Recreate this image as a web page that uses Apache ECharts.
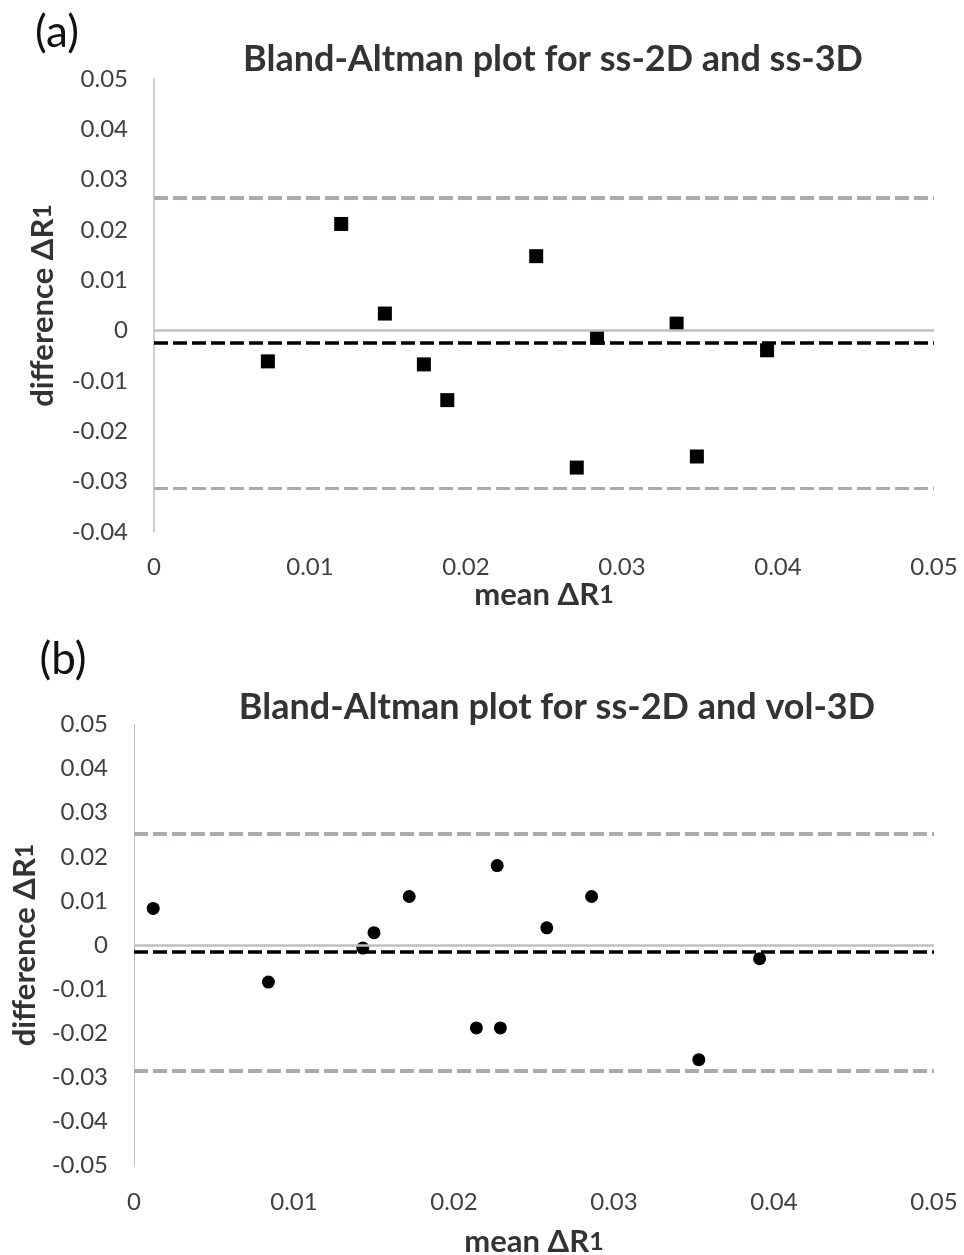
<!DOCTYPE html>
<html>
<head>
<meta charset="utf-8">
<script src="https://cdn.jsdelivr.net/npm/echarts@6/dist/echarts.min.js"></script>
<style>
html,body{margin:0;padding:0;background:#fff;}
#c{width:964px;height:1255px;}
</style>
</head>
<body>
<div id="c"></div>
<script>
// ---- Panel (a): ss-2D vs ss-3D ----
const meanA = [0.0073, 0.0120, 0.0148, 0.0173, 0.0188, 0.0245, 0.0271, 0.0284, 0.0335, 0.0348, 0.0393];
const diffA = [-0.0061, 0.0212, 0.0034, -0.0067, -0.0138, 0.0148, -0.0272, -0.0014, 0.0014, -0.0250, -0.0039];
const limitsA = { upper: 0.0264, mean: -0.0024, lower: -0.0313 };

// ---- Panel (b): ss-2D vs vol-3D ----
const meanB = [0.0012, 0.0084, 0.0143, 0.0150, 0.0172, 0.0214, 0.0227, 0.0229, 0.0258, 0.0286, 0.0353, 0.0391];
const diffB = [0.0083, -0.0084, -0.0007, 0.0028, 0.0110, -0.0188, 0.0180, -0.0188, 0.0039, 0.0110, -0.0260, -0.0031];
const limitsB = { upper: 0.0252, mean: -0.0016, lower: -0.0286 };

// ---- axis ticks ----
const xTicks = [0, 0.01, 0.02, 0.03, 0.04, 0.05];
const yTicksA = [-0.04, -0.03, -0.02, -0.01, 0, 0.01, 0.02, 0.03, 0.04, 0.05];
const yTicksB = [-0.05, -0.04, -0.03, -0.02, -0.01, 0, 0.01, 0.02, 0.03, 0.04, 0.05];

const titleA = 'Bland-Altman plot for ss-2D and ss-3D';
const titleB = 'Bland-Altman plot for ss-2D and vol-3D';
const panelA = '(a)';
const panelB = '(b)';
const xName = 'mean ΔR{s|1}';
const yName = 'difference ΔR{s|1}';

const FONT = 'Lato, "Liberation Sans", sans-serif';
const fmt = v => { const r = Math.round(v * 100) / 100; return r === 0 ? '0' : String(r); };

function pairs(xs, ys) { return xs.map((x, i) => [x, ys[i]]); }

const nameStyle = { color: '#333', fontFamily: FONT, fontWeight: 'bold', fontSize: 31,
  rich: { s: { fontFamily: FONT, fontSize: 25, fontWeight: 'bold', color: '#333' } } };

function xAxisCfg(gi, margin, nameGap) {
  return {
    gridIndex: gi, type: 'value', min: xTicks[0], max: xTicks[xTicks.length - 1],
    interval: 0.01,
    axisLine: { show: false }, axisTick: { show: false }, splitLine: { show: false },
    axisLabel: { formatter: fmt, color: '#404040', fontFamily: FONT, fontSize: 24, margin: margin },
    name: xName, nameLocation: 'middle', nameGap: nameGap, nameTextStyle: nameStyle
  };
}
function yAxisCfg(gi, ticks, lw, nameGap) {
  return {
    gridIndex: gi, type: 'value', min: ticks[0], max: ticks[ticks.length - 1], interval: 0.01,
    axisLine: { show: true, onZero: false, lineStyle: { color: '#bfbfbf', width: lw } },
    axisTick: { show: false }, splitLine: { show: false },
    axisLabel: { formatter: fmt, color: '#404040', fontFamily: FONT, fontSize: 24, margin: 26 },
    name: yName, nameLocation: 'middle', nameGap: nameGap, nameRotate: 90, nameTextStyle: nameStyle
  };
}
function refLines(gi, lim, wu, wl) {
  return {
    type: 'line', xAxisIndex: gi, yAxisIndex: gi, data: [], z: 1, silent: true,
    markLine: {
      silent: true, symbol: 'none', label: { show: false }, animation: false, precision: 6,
      data: [
        { yAxis: 0, lineStyle: { color: '#bfbfbf', width: 2.5, type: 'solid' } },
        { yAxis: lim.upper, lineStyle: { color: '#aeaaaa', width: wu, type: [14, 5] } },
        { yAxis: lim.lower, lineStyle: { color: '#aeaaaa', width: wl, type: [14, 5] } },
        { yAxis: lim.mean, lineStyle: { color: '#000', width: 3.5, type: [14, 5] } }
      ]
    }
  };
}

const chart = echarts.init(document.getElementById('c'), null, { renderer: 'canvas' });
chart.setOption({
  animation: false,
  backgroundColor: '#fff',
  grid: [
    { left: 154, top: 79, width: 780, height: 453, outerBoundsMode: 'none' },
    { left: 134, top: 724.5, width: 800, height: 441, outerBoundsMode: 'none' }
  ],
  xAxis: [xAxisCfg(0, 23, 47), xAxisCfg(1, 25, 61)],
  yAxis: [yAxisCfg(0, yTicksA, 1.5, 96), yAxisCfg(1, yTicksB, 1, 94)],
  graphic: [
    { type: 'text', x: 57, y: 33, style: { text: panelA, font: '44px ' + FONT, fill: '#111', textAlign: 'center', textVerticalAlign: 'middle' } },
    { type: 'text', x: 63, y: 660, style: { text: panelB, font: '44px ' + FONT, fill: '#111', textAlign: 'center', textVerticalAlign: 'middle' } },
    { type: 'text', x: 553, y: 59, style: { text: titleA, font: 'bold 36px ' + FONT, fill: '#333', textAlign: 'center', textVerticalAlign: 'middle' } },
    { type: 'text', x: 557, y: 707, style: { text: titleB, font: 'bold 36px ' + FONT, fill: '#333', textAlign: 'center', textVerticalAlign: 'middle' } }
  ],
  series: [
    refLines(0, limitsA, 4, 3),
    refLines(1, limitsB, 4, 4),
    { type: 'scatter', xAxisIndex: 0, yAxisIndex: 0, z: 3, symbol: 'rect', symbolSize: 14,
      itemStyle: { color: '#000', opacity: 1 }, data: pairs(meanA, diffA) },
    { type: 'scatter', xAxisIndex: 1, yAxisIndex: 1, z: 3, symbol: 'circle', symbolSize: 13,
      itemStyle: { color: '#000', opacity: 1 }, data: pairs(meanB, diffB) }
  ]
});
</script>
</body>
</html>
